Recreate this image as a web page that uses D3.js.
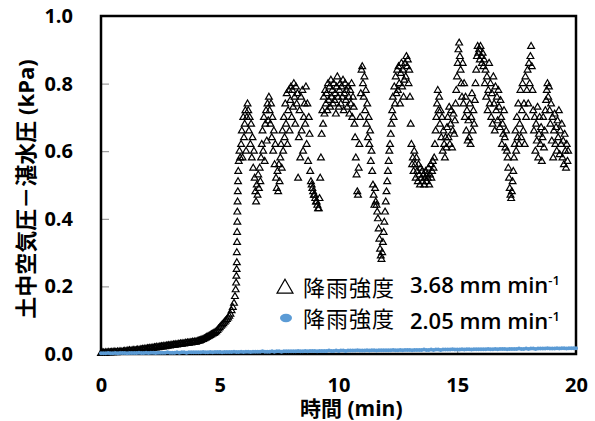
<!DOCTYPE html>
<html lang="ja"><head>
<meta charset="utf-8">
<title>土中空気圧－湛水圧</title>
<script src="https://cdn.jsdelivr.net/npm/d3@7"></script>
<style>
  body { margin: 0; background: #fff; }
  svg { display: block; }
  .tick text { font-family: "Open Sans", sans-serif; font-weight: 700; font-size: 20px; fill: #000; }
  .tick line { stroke: #888; stroke-width: 1; }
</style>
</head>
<body>
<script>
// pore air pressure minus ponding pressure, two rainfall intensities
var width = 595, height = 421;
var plotLeft = 101, plotTop = 16, plotRight = 576, plotBottom = 354;

var xTicks = [0, 5, 10, 15, 20];
var yTicks = [0, 0.2, 0.4, 0.6, 0.8, 1.0];

// 3.68 mm/min : slow build-up, sampled every 0.05 min from t = 0
var earlyStart = 0, earlyStep = 0.05;
var rainEarly = [
  .002,.004,.003,.002,.004,.003,.005,.003,.004,.005,
  .004,.006,.005,.004,.006,.005,.007,.006,.005,.007,
  .008,.006,.009,.008,.010,.008,.009,.011,.010,.009,
  .011,.012,.010,.013,.012,.014,.013,.015,.014,.016,
  .015,.017,.016,.018,.017,.019,.018,.020,.019,.021,
  .020,.022,.021,.023,.022,.024,.023,.025,.024,.026,
  .025,.027,.026,.028,.027,.029,.028,.030,.029,.031,
  .030,.032,.031,.033,.032,.034,.033,.035,.034,.036,
  .035,.037,.038,.039,.040,.042,.043,.045,.047,.049,
  .051,.053,.055,.057,.059,.061,.063,.066,.070,.074,
  .078,.082,.086,.090,.094,.098,.102,.107,.112,.118,
  .128,.138,.150
];
// the sharp rise just before 6 min
var riseTime  = [5.64,5.67,5.69,5.70,5.71,5.72,5.72,5.73,5.73,5.74,5.74,5.75,5.76,5.77,5.78,5.80,5.83,5.86];
var riseValue = [.17,.19,.21,.23,.25,.27,.30,.33,.36,.39,.42,.45,.48,.51,.54,.57,.60,.58];
// fluctuating part, sampled every 0.03 min from t = 5.9
var oscStart = 5.9, oscStep = 0.03;
var rainOsc = [
  .62,.66,.58,.70,.64,.68,.72,.60,.70,.74,
  .72,.66,.70,.62,.68,.58,.64,.55,.60,.52,
  .48,.45,.50,.47,.53,.49,.55,.51,.58,.62,
  .66,.60,.70,.57,.68,.72,.63,.74,.69,.76,
  .72,.68,.74,.64,.70,.60,.66,.56,.62,.52,
  .49,.54,.48,.56,.51,.58,.62,.55,.66,.60,
  .70,.64,.74,.68,.77,.62,.72,.78,.66,.75,
  .79,.70,.78,.73,.80,.76,.68,.79,.74,.77,
  .52,.64,.72,.58,.76,.66,.78,.60,.70,.74,
  .68,.79,.62,.74,.57,.70,.65,.54,.51,.50,
  .49,.48,.47,.47,.46,.45,.45,.44,.43,.43,
  .46,.52,.58,.65,.72,.68,.76,.71,.78,.74,
  .77,.72,.80,.75,.79,.73,.81,.76,.78,.74,
  .80,.75,.77,.71,.79,.82,.76,.73,.78,.80,
  .74,.79,.76,.81,.72,.77,.80,.75,.78,.73,
  .79,.76,.71,.78,.74,.80,.70,.76,.73,.68,
  .64,.58,.53,.48,.47,.55,.62,.70,.77,.84,
  .85,.80,.76,.82,.72,.78,.68,.74,.64,.70,
  .62,.66,.57,.60,.54,.50,.47,.44,.49,.45,
  .44,.42,.40,.37,.34,.31,.29,.28,.30,.33,
  .36,.39,.42,.45,.48,.51,.54,.57,.60,.62,
  .65,.68,.72,.76,.70,.79,.74,.82,.77,.84,
  .78,.85,.80,.74,.83,.86,.79,.84,.76,.81,
  .86,.82,.88,.85,.87,.80,.84,.76,.68,.62,
  .56,.58,.54,.60,.56,.52,.58,.54,.51,.56,
  .53,.50,.55,.52,.54,.51,.53,.50,.52,.54,
  .51,.53,.52,.55,.50,.53,.56,.52,.54,.57,
  .55,.58,.62,.66,.70,.74,.78,.72,.76,.68,
  .72,.64,.70,.60,.66,.62,.58,.64,.61,.67,
  .70,.64,.73,.62,.68,.72,.61,.66,.71,.65,
  .69,.74,.78,.82,.86,.90,.92,.88,.84,.80,
  .76,.86,.74,.80,.70,.76,.66,.72,.63,.69,
  .64,.74,.62,.70,.77,.66,.72,.68,.75,.80,
  .84,.88,.91,.89,.90,.87,.91,.88,.86,.89,
  .85,.87,.80,.84,.76,.82,.72,.78,.86,.74,
  .80,.70,.77,.68,.82,.74,.66,.79,.72,.76,
  .69,.78,.73,.67,.75,.70,.62,.68,.65,.72,
  .64,.61,.66,.60,.58,.55,.52,.49,.47,.46,
  .48,.51,.54,.58,.62,.66,.60,.70,.64,.74,
  .62,.68,.78,.64,.72,.80,.66,.74,.62,.82,
  .70,.78,.84,.74,.86,.80,.88,.91,.85,.78,
  .72,.66,.70,.60,.68,.63,.73,.58,.65,.70,
  .62,.67,.57,.64,.70,.61,.66,.72,.75,.78,
  .80,.76,.79,.72,.68,.74,.63,.70,.58,.66,
  .71,.62,.67,.60,.69,.64,.72,.59,.66,.62,
  .68,.58,.63,.56,.65,.60,.55,.62,.57,.60
];

// 2.05 mm/min : stays near zero, sampled every 0.1 min from t = 0
var lowStart = 0, lowStep = 0.1;
var rainLow = [
  .002,.002,.002,.003,.002,.002,.003,.002,.003,.003,
  .003,.002,.003,.003,.003,.003,.004,.003,.003,.004,
  .003,.004,.004,.003,.004,.004,.004,.004,.005,.004,
  .004,.004,.005,.004,.005,.005,.004,.005,.005,.005,
  .005,.005,.005,.006,.005,.005,.006,.005,.006,.006,
  .006,.005,.006,.006,.006,.006,.007,.006,.006,.007,
  .006,.007,.007,.006,.007,.007,.007,.007,.008,.007,
  .007,.007,.008,.007,.008,.008,.007,.008,.008,.008,
  .008,.008,.008,.009,.008,.008,.009,.008,.009,.009,
  .009,.008,.009,.009,.009,.009,.010,.009,.009,.010,
  .009,.010,.010,.009,.010,.010,.010,.010,.011,.010,
  .010,.010,.011,.010,.011,.011,.010,.011,.011,.011,
  .011,.011,.011,.012,.011,.011,.012,.011,.012,.012,
  .012,.011,.012,.012,.012,.012,.013,.012,.012,.013,
  .012,.013,.013,.012,.013,.013,.013,.013,.014,.013,
  .013,.013,.014,.013,.014,.014,.013,.014,.014,.014,
  .014,.014,.014,.015,.014,.014,.015,.014,.015,.015,
  .015,.014,.015,.015,.015,.015,.016,.015,.015,.016,
  .015,.016,.016,.015,.016,.016,.016,.016,.017,.016,
  .016,.016,.017,.016,.017,.017,.016,.017,.017,.017,
  .017
];

var highPts = [].concat(
  rainEarly.map(function(v, i) { return {t: earlyStart + i * earlyStep, v: v}; }),
  riseTime.map(function(t, i) { return {t: t, v: riseValue[i]}; }),
  rainOsc.map(function(v, i) { return {t: oscStart + i * oscStep, v: v}; })
);
var lowPts = rainLow.map(function(v, i) { return {t: lowStart + i * lowStep, v: v}; });

var x = d3.scaleLinear().domain([0, 20]).range([plotLeft, plotRight]);
var y = d3.scaleLinear().domain([0, 1]).range([plotBottom, plotTop]);

var svg = d3.select("body").append("svg")
            .attr("width", width)
            .attr("height", height);

var xAxis = d3.axisBottom(x).tickValues(xTicks).tickFormat(d3.format("d"))
              .tickSizeInner(-4).tickSizeOuter(0).tickPadding(24);
var yAxis = d3.axisLeft(y).tickValues(yTicks).tickFormat(d3.format(".1f"))
              .tickSizeInner(-8).tickSizeOuter(0).tickPadding(28);

svg.append("g")
   .attr("transform", "translate(0," + plotBottom + ")")
   .call(xAxis)
   .call(function(g) { g.select(".domain").remove(); });

svg.append("g")
   .attr("transform", "translate(" + plotLeft + ",0)")
   .call(yAxis)
   .call(function(g) { g.select(".domain").remove(); });

// plot frame
svg.append("rect")
   .attr("x", plotLeft).attr("y", plotTop)
   .attr("width", plotRight - plotLeft).attr("height", plotBottom - plotTop)
   .attr("fill", "none")
   .attr("stroke", "#000")
   .attr("stroke-width", 2.5);

var tri = d3.symbol().type(d3.symbolTriangle).size(20);

svg.append("g")
   .selectAll("path")
   .data(highPts)
   .enter()
   .append("path")
   .attr("d", tri)
   .attr("transform", function(d) { return "translate(" + x(d.t) + "," + y(d.v) + ")"; })
   .attr("fill", "none")
   .attr("stroke", "#000")
   .attr("stroke-width", 1.2);

svg.append("g")
   .selectAll("circle")
   .data(lowPts)
   .enter()
   .append("circle")
   .attr("cx", function(d) { return x(d.t); })
   .attr("cy", function(d) { return y(d.v); })
   .attr("r", 2)
   .attr("fill", "#5b9bd5");

// legend
var legend = svg.append("g");
legend.append("rect")
      .attr("x", 270).attr("y", 267)
      .attr("width", 292).attr("height", 71)
      .attr("fill", "#fff");

legend.append("path")
      .attr("d", d3.symbol().type(d3.symbolTriangle).size(110))
      .attr("transform", "translate(285,288.5)")
      .attr("fill", "none")
      .attr("stroke", "#000")
      .attr("stroke-width", 1.2);

legend.append("ellipse")
      .attr("cx", 286).attr("cy", 318)
      .attr("rx", 6).attr("ry", 4.2)
      .attr("fill", "#5b9bd5");

var rows = [
  {y1: 296, y2: 293, val: "3.68"},
  {y1: 327, y2: 329, val: "2.05"}
];
rows.forEach(function(r) {
  legend.append("text")
        .attr("x", 303).attr("y", r.y1)
        .attr("font-family", "'Noto Sans CJK JP', sans-serif")
        .attr("font-size", 22)
        .attr("letter-spacing", 1)
        .text("降雨強度");
  var t = legend.append("text")
        .attr("x", 410).attr("y", r.y2)
        .attr("font-family", "'Open Sans', sans-serif")
        .attr("font-size", 22)
        .attr("font-weight", 600);
  t.append("tspan").text(r.val + " mm min");
  t.append("tspan").attr("dy", -8).attr("font-size", 13).text("-1");
});

// axis titles
svg.append("text")
   .attr("x", 300).attr("y", 416)
   .attr("font-family", "'Open Sans', 'Noto Sans CJK JP', sans-serif")
   .attr("font-weight", 700)
   .attr("font-size", 21)
   .text("時間 (min)");

svg.append("text")
   .attr("transform", "translate(34,189) rotate(-90)")
   .attr("text-anchor", "middle")
   .attr("font-family", "'Open Sans', 'Noto Sans CJK JP', sans-serif")
   .attr("font-weight", 700)
   .attr("font-size", 22)
   .text("土中空気圧－湛水圧 (kPa)");
</script>
</body></html>
